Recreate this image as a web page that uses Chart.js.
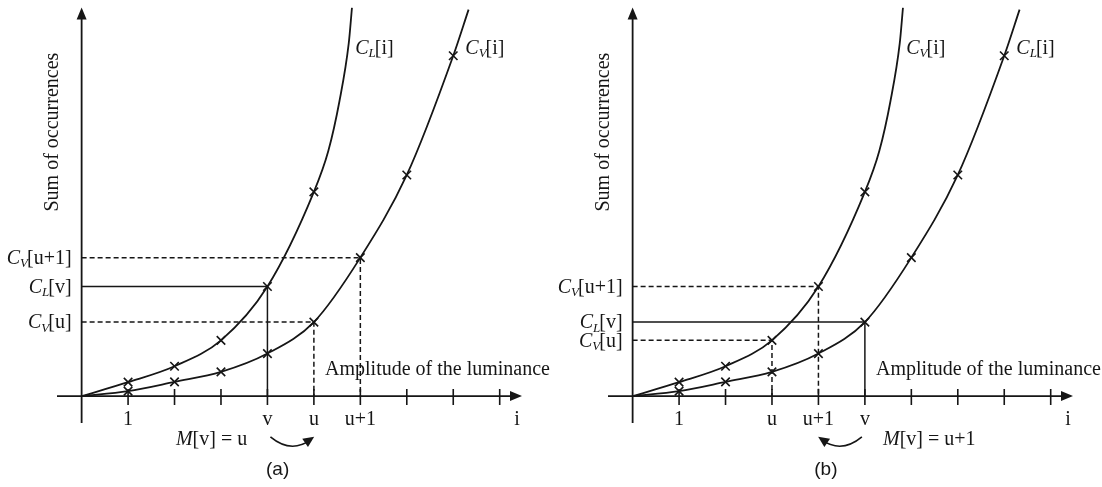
<!DOCTYPE html>
<html>
<head>
<meta charset="utf-8">
<script src="https://cdn.jsdelivr.net/npm/chart.js@4.4.1/dist/chart.umd.min.js"></script>
<style>
    html, body { margin: 0; background: #fff; }
    #wrap { position: relative; width: 1102px; height: 487px; }
    canvas { position: absolute; top: 0; }
    #panelA { left: 0; }
    #panelB { left: 551px; }
</style>
</head>
<body>
<div id="wrap">
    <canvas id="panelA" width="551" height="487"></canvas>
    <canvas id="panelB" width="551" height="487"></canvas>
</div>
<script>
// tick positions on the i axis
const STEPS = [1, 2, 3, 4, 5, 6, 7, 8, 9]

// steep histogram curve (left one): marked points, then the part running off the top
const FAST_X = [1, 2, 3, 4, 5]
const FAST_Y = [14, 30, 56, 110, 205]
const FAST_TAIL_X = [5.31, 5.55, 5.75, 5.82]
const FAST_TAIL_Y = [246, 296, 354, 390]

// flatter histogram curve (right one)
const SLOW_X = [1, 2, 3, 4, 5, 6, 7, 8]
const SLOW_Y = [5, 14.3, 24.3, 42.7, 74.3, 139, 222, 341.7]
const SLOW_TAIL_X = [8.33]
const SLOW_TAIL_Y = [388]

// tick labels under the axis
const TICKS_A = ['1', '', '', 'v', 'u', 'u+1', '', '', '']
const TICKS_B = ['1', '', 'u', 'u+1', 'v', '', '', '', '']

// curve names
const NAMES_A = { fast: 'C_L[i]', slow: 'C_V[i]' }
const NAMES_B = { fast: 'C_V[i]', slow: 'C_L[i]' }

// guide lines: label, curve, step index, dashed
const GUIDES_A = [
    ['C_V[u+1]', 'slow', 6, true],
    ['C_L[v]', 'fast', 4, false],
    ['C_V[u]', 'slow', 5, true]
]
const GUIDES_B = [
    ['C_V[u+1]', 'fast', 4, true],
    ['C_L[v]', 'slow', 5, false],
    ['C_V[u]', 'fast', 3, true]
]

const INK = '#161616'
const SERIF = '"Liberation Serif", "Times New Roman", serif'

function curveValue(which, k) {
    return which === 'fast' ? FAST_Y[FAST_X.indexOf(k)] : SLOW_Y[SLOW_X.indexOf(k)]
}

function toPoints(xs, ys) {
    return xs.map((x, i) => ({ x: x, y: ys[i] }))
}

// draws things like C_V[u+1] : italic C, italic subscript, upright rest
function drawLabel(ctx, text, x, y, align) {
    let parts
    if (text[1] === '_') {
        parts = [
            [text[0], 'italic 20px ' + SERIF, 0],
            [text[2], 'italic 13px ' + SERIF, 5],
            [text.slice(3), '20px ' + SERIF, 0]
        ]
    } else if (text[0] === 'M') {
        parts = [['M', 'italic 20px ' + SERIF, 0], [text.slice(1), '20px ' + SERIF, 0]]
    } else {
        parts = [[text, '20px ' + SERIF, 0]]
    }
    let widths = parts.map(p => {
        ctx.font = p[1]
        return ctx.measureText(p[0]).width
    })
    let total = widths.reduce((a, b) => a + b, 0)
    let cx = align === 'right' ? x - total : (align === 'center' ? x - total / 2 : x)
    ctx.textAlign = 'left'
    ctx.textBaseline = 'middle'
    parts.forEach((p, i) => {
        ctx.font = p[1]
        ctx.fillText(p[0], cx, y + p[2])
        cx += widths[i] - (p[2] ? 1 : 0)
    })
}

const diagram = {
    id: 'diagram',
    beforeDatasetsDraw(chart, args, opts) {
        const ctx = chart.ctx
        const xs = chart.scales.x
        const ys = chart.scales.y
        const x0 = xs.getPixelForValue(0)
        const y0 = ys.getPixelForValue(0)
        ctx.save()
        ctx.strokeStyle = INK
        ctx.fillStyle = INK
        ctx.lineWidth = 1.8
        // axes
        ctx.beginPath()
        ctx.moveTo(xs.left, y0)
        ctx.lineTo(xs.right - 6, y0)
        ctx.moveTo(x0, ys.bottom)
        ctx.lineTo(x0, ys.top + 6)
        ctx.stroke()
        // arrow heads
        ctx.beginPath()
        ctx.moveTo(xs.right, y0)
        ctx.lineTo(xs.right - 12, y0 - 5)
        ctx.lineTo(xs.right - 12, y0 + 5)
        ctx.closePath()
        ctx.moveTo(x0, ys.top)
        ctx.lineTo(x0 - 5, ys.top + 12)
        ctx.lineTo(x0 + 5, ys.top + 12)
        ctx.closePath()
        ctx.fill()
        // ticks
        ctx.lineWidth = 1.6
        ctx.beginPath()
        STEPS.forEach(k => {
            const px = xs.getPixelForValue(k)
            ctx.moveTo(px, y0 - 7)
            ctx.lineTo(px, y0 + 9)
        })
        ctx.stroke()
        ctx.restore()
    },
    afterDatasetsDraw(chart, args, opts) {
        const ctx = chart.ctx
        const xs = chart.scales.x
        const ys = chart.scales.y
        const X = v => xs.getPixelForValue(v)
        const Y = v => ys.getPixelForValue(v)
        const x0 = X(0)
        ctx.save()
        ctx.fillStyle = INK
        ctx.strokeStyle = INK

        // tick labels
        opts.ticks.forEach((t, i) => {
            if (t) drawLabel(ctx, t, X(STEPS[i]), Y(-24), 'center')
        })
        drawLabel(ctx, 'i', X(9.375), Y(-24), 'center')

        // guide labels on the left
        opts.guides.forEach(g => {
            drawLabel(ctx, g[0], x0 - 9, Y(curveValue(g[1], g[2])) + 1, 'right')
        })

        // curve names
        drawLabel(ctx, opts.names.fast, X(5.89), Y(349), 'left')
        drawLabel(ctx, opts.names.slow, X(8.26), Y(349), 'left')

        drawLabel(ctx, 'Amplitude of the luminance', X(5.24), Y(26), 'left')

        // y title
        ctx.save()
        ctx.translate(x0 - 29, Y(265))
        ctx.rotate(-Math.PI / 2)
        drawLabel(ctx, 'Sum of occurrences', 0, 0, 'center')
        ctx.restore()

        drawLabel(ctx, opts.mapText, X(opts.mapAt), Y(-44), 'left')

        // curved arrow between the two steps
        const a = X(opts.arrowFrom) + (opts.arrowTo > opts.arrowFrom ? 3 : -3)
        const b = X(opts.arrowTo) + (opts.arrowTo > opts.arrowFrom ? -3 : 3)
        const yA = Y(-41)
        const mid = (a + b) / 2
        ctx.lineWidth = 1.6
        ctx.beginPath()
        ctx.moveTo(a, yA)
        ctx.quadraticCurveTo(mid, Y(-58), b, Y(-44))
        ctx.stroke()
        const ang = Math.atan2(Y(-44) - Y(-58), b - mid)
        ctx.beginPath()
        ctx.translate(b, Y(-43))
        ctx.rotate(ang)
        ctx.moveTo(4, 0)
        ctx.lineTo(-7, -5)
        ctx.lineTo(-7, 5)
        ctx.closePath()
        ctx.fill()
        ctx.setTransform(1, 0, 0, 1, 0, 0)

        // caption
        ctx.font = '19px "Liberation Sans", Arial, sans-serif'
        ctx.textAlign = 'center'
        ctx.textBaseline = 'middle'
        ctx.fillText(opts.caption, X(opts.captionAt), Y(-74))
        ctx.restore()
    }
}

function makePanel(id, names, guides, ticks, extra) {
    const curve = (xs, ys, tx, ty) => ({
        data: [{ x: 0, y: 0 }].concat(toPoints(xs, ys), toPoints(tx, ty)),
        borderColor: INK,
        borderWidth: 1.8,
        pointRadius: 0,
        cubicInterpolationMode: 'monotone',
        fill: false
    })
    const marks = (xs, ys) => ({
        data: toPoints(xs, ys),
        showLine: false,
        pointStyle: 'crossRot',
        pointRadius: 6,
        pointBorderWidth: 1.6,
        pointBorderColor: INK,
        pointBackgroundColor: INK
    })
    const guideSets = guides.map(g => {
        const v = curveValue(g[1], g[2])
        return {
            data: [{ x: 0, y: v }, { x: g[2], y: v }, { x: g[2], y: 0 }],
            borderColor: INK,
            borderWidth: 1.5,
            borderDash: g[3] ? [5, 3] : [],
            pointRadius: 0,
            tension: 0,
            fill: false
        }
    })
    return new Chart(document.getElementById(id), {
        type: 'line',
        data: {
            datasets: guideSets.concat([
                curve(FAST_X, FAST_Y, FAST_TAIL_X, FAST_TAIL_Y),
                curve(SLOW_X, SLOW_Y, SLOW_TAIL_X, SLOW_TAIL_Y),
                marks(FAST_X, FAST_Y),
                marks(SLOW_X, SLOW_Y)
            ])
        },
        options: {
            responsive: false,
            animation: false,
            layout: { padding: { left: 57, right: 29, top: 6, bottom: 64 } },
            scales: {
                x: { type: 'linear', min: -0.53, max: 9.48, display: false },
                y: { type: 'linear', min: -27, max: 390, display: false }
            },
            plugins: {
                legend: { display: false },
                tooltip: { enabled: false },
                diagram: Object.assign({ names: names, guides: guides, ticks: ticks }, extra)
            }
        },
        plugins: [diagram]
    })
}

makePanel('panelA', NAMES_A, GUIDES_A, TICKS_A,
    { mapText: 'M[v] = u', mapAt: 2.03, arrowFrom: 4, arrowTo: 5, caption: '(a)', captionAt: 4.22 })
makePanel('panelB', NAMES_B, GUIDES_B, TICKS_B,
    { mapText: 'M[v] = u+1', mapAt: 5.39, arrowFrom: 5, arrowTo: 4, caption: '(b)', captionAt: 4.16 })
</script>
</body>
</html>
